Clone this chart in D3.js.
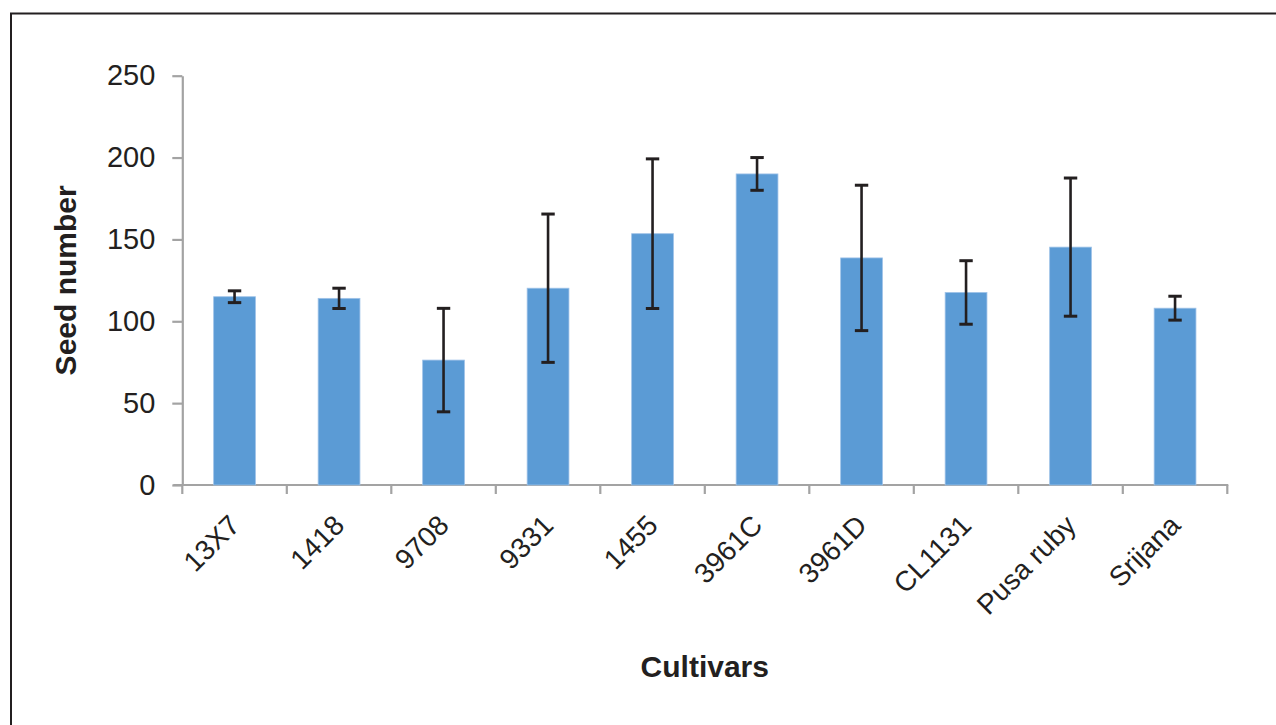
<!DOCTYPE html>
<html>
<head>
<meta charset="utf-8">
<script src="https://cdn.jsdelivr.net/npm/d3@7"></script>
<style>
  html, body { margin: 0; padding: 0; background: #ffffff; }
  svg { display: block; }
  text { font-family: "Liberation Sans", Arial, Helvetica, sans-serif; fill: #231f20; }
</style>
</head>
<body>
<svg id="chart" width="1276" height="725"></svg>
<script>
const cultivars = ["13X7", "1418", "9708", "9331", "1455", "3961C", "3961D", "CL1131", "Pusa ruby", "Srijana"];
const seedNumber = [115, 114, 76.3, 120.2, 153.5, 190, 138.7, 117.6, 145.3, 108];
const seedError = [3.6, 6.2, 31.6, 45.3, 45.7, 10, 44.4, 19.4, 42.2, 7.3];
const yTicks = [0, 50, 100, 150, 200, 250];
const xTitle = "Cultivars";
const yTitle = "Seed number";

const svg = d3.select("#chart");
const plotLeft = 182.3, plotRight = 1227.3, plotTop = 75.7, plotBottom = 485;

// frame
svg.append("rect")
  .attr("x", 11).attr("y", 13.5)
  .attr("width", 1400).attr("height", 800)
  .attr("fill", "none").attr("stroke", "#231f20").attr("stroke-width", 2);

const x = d3.scaleBand().domain(cultivars).range([plotLeft, plotRight])
  .paddingInner(0.6).paddingOuter(0.3);
const xb = d3.scaleBand().domain(cultivars).range([plotLeft, plotRight]).padding(0);
const y = d3.scaleLinear().domain([0, 250]).range([plotBottom, plotTop]);

const axisColor = "#a3a3a3";

// y axis
const yAxis = svg.append("g").attr("transform", `translate(${plotLeft},0)`)
  .call(d3.axisLeft(y).tickValues(yTicks).tickSize(10).tickPadding(17).tickSizeOuter(0));
yAxis.select(".domain").attr("stroke", axisColor).attr("stroke-width", 2.2);
yAxis.selectAll(".tick line").attr("stroke", axisColor).attr("stroke-width", 2.2);
yAxis.selectAll(".tick text").attr("font-size", 29).attr("fill", "#231f20")
  .style("font-family", "'Liberation Sans', Arial, sans-serif");

// x axis line with ticks at band boundaries
const bounds = cultivars.map(c => xb(c)).concat([plotRight]);
svg.append("line").attr("x1", plotLeft - 9).attr("x2", plotRight + 1)
  .attr("y1", plotBottom).attr("y2", plotBottom)
  .attr("stroke", axisColor).attr("stroke-width", 2.2);
svg.selectAll(".xtick").data(bounds).enter().append("line")
  .attr("class", "xtick")
  .attr("x1", d => d).attr("x2", d => d)
  .attr("y1", plotBottom).attr("y2", plotBottom + 9)
  .attr("stroke", axisColor).attr("stroke-width", 2.2);

// bars
svg.selectAll(".bar").data(cultivars).enter().append("rect")
  .attr("class", "bar")
  .attr("x", d => x(d))
  .attr("width", x.bandwidth())
  .attr("y", (d, i) => y(seedNumber[i]))
  .attr("height", (d, i) => y(0) - y(seedNumber[i]))
  .attr("fill", "#5b9bd5")
  .attr("stroke", "#9fc2e8").attr("stroke-width", 0.8);

// error bars
const eg = svg.append("g");
cultivars.forEach((c, i) => {
  const cx = x(c) + x.bandwidth() / 2;
  const hi = y(seedNumber[i] + seedError[i]);
  const lo = y(seedNumber[i] - seedError[i]);
  eg.append("line").attr("x1", cx).attr("x2", cx).attr("y1", hi).attr("y2", lo)
    .attr("stroke", "#231f20").attr("stroke-width", 2.6);
  [hi, lo].forEach(v => {
    eg.append("line").attr("x1", cx - 6.7).attr("x2", cx + 6.7).attr("y1", v).attr("y2", v)
      .attr("stroke", "#231f20").attr("stroke-width", 3);
  });
});

// x tick labels rotated
svg.selectAll(".xlab").data(cultivars).enter().append("text")
  .attr("class", "xlab")
  .attr("transform", d => `translate(${x(d) + x.bandwidth() / 2 + 7},${527}) rotate(-45)`)
  .attr("text-anchor", "end")
  .attr("font-size", 28)
  .text(d => d);

// axis titles
svg.append("text")
  .attr("x", (plotLeft + plotRight) / 2).attr("y", 677)
  .attr("text-anchor", "middle").attr("font-size", 30).attr("font-weight", "bold")
  .text(xTitle);
svg.append("text")
  .attr("transform", `translate(76,${(plotTop + plotBottom) / 2}) rotate(-90)`)
  .attr("text-anchor", "middle").attr("font-size", 30).attr("font-weight", "bold")
  .text(yTitle);
</script>
</body>
</html>
